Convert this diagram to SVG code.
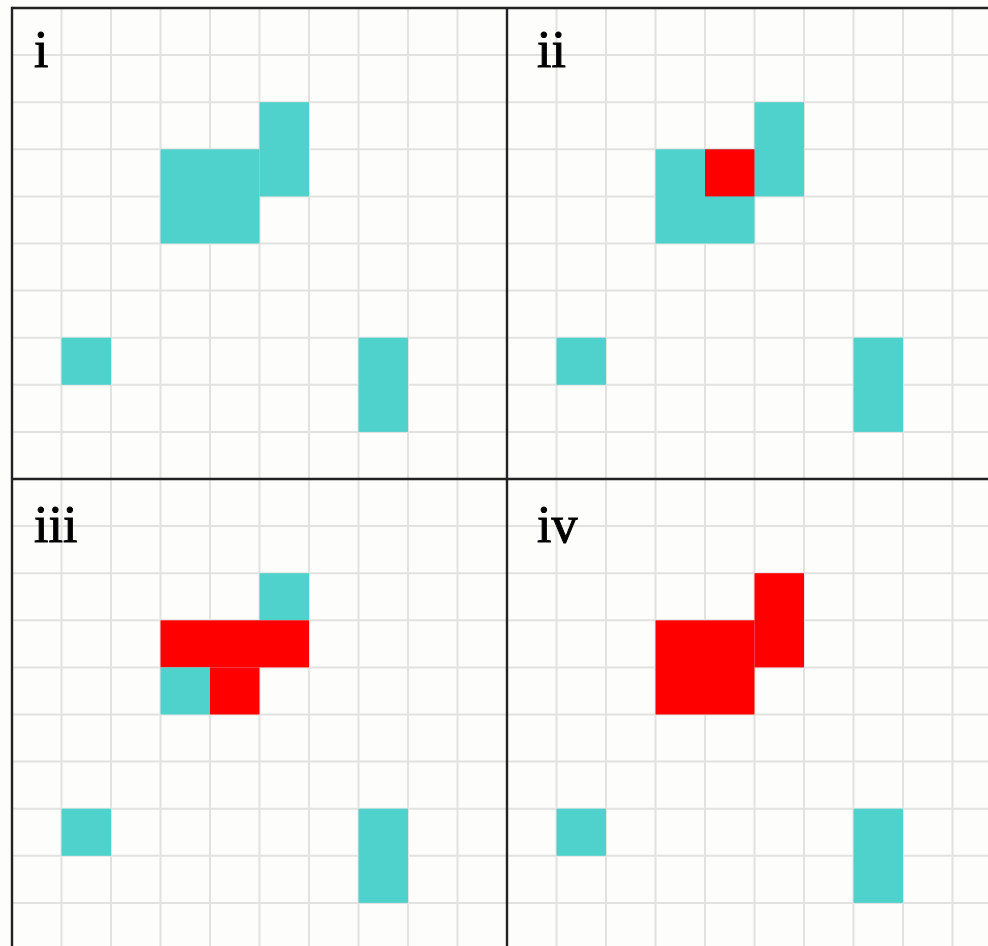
<svg xmlns="http://www.w3.org/2000/svg" xmlns:xlink="http://www.w3.org/1999/xlink" width="988" height="946" viewBox="0 0 988 946">
<style>
.grid line{stroke:#e2e2e0;stroke-width:2}
.frame line{stroke:#222;stroke-width:2.4}
.c{fill:#4fd1cc}
.r{fill:#ff0000}
.lbl{font-family:"Liberation Serif","Times New Roman",serif;font-size:52px;fill:#000;stroke:#000;stroke-width:1}
</style>
<defs>
<g id="static">
<rect class="c" x="49.5" y="329.7" width="49.5" height="47.1"/>
<rect class="c" x="346.5" y="329.7" width="49.5" height="94.2"/>
</g>
</defs>
<rect x="0" y="0" width="988" height="946" fill="#fdfdfb"/>
<g class="grid">
<line x1="61.5" y1="8" x2="61.5" y2="946"/><line x1="111" y1="8" x2="111" y2="946"/><line x1="160.5" y1="8" x2="160.5" y2="946"/><line x1="210" y1="8" x2="210" y2="946"/><line x1="259.5" y1="8" x2="259.5" y2="946"/><line x1="309" y1="8" x2="309" y2="946"/><line x1="358.5" y1="8" x2="358.5" y2="946"/><line x1="408" y1="8" x2="408" y2="946"/><line x1="457.5" y1="8" x2="457.5" y2="946"/>
<line x1="556.5" y1="8" x2="556.5" y2="946"/><line x1="606" y1="8" x2="606" y2="946"/><line x1="655.5" y1="8" x2="655.5" y2="946"/><line x1="705" y1="8" x2="705" y2="946"/><line x1="754.5" y1="8" x2="754.5" y2="946"/><line x1="804" y1="8" x2="804" y2="946"/><line x1="853.5" y1="8" x2="853.5" y2="946"/><line x1="903" y1="8" x2="903" y2="946"/><line x1="952.5" y1="8" x2="952.5" y2="946"/>
<line x1="12" y1="55.1" x2="988" y2="55.1"/><line x1="12" y1="102.2" x2="988" y2="102.2"/><line x1="12" y1="149.3" x2="988" y2="149.3"/><line x1="12" y1="196.4" x2="988" y2="196.4"/><line x1="12" y1="243.5" x2="988" y2="243.5"/><line x1="12" y1="290.6" x2="988" y2="290.6"/><line x1="12" y1="337.7" x2="988" y2="337.7"/><line x1="12" y1="384.8" x2="988" y2="384.8"/><line x1="12" y1="431.9" x2="988" y2="431.9"/>
<line x1="12" y1="526.1" x2="988" y2="526.1"/><line x1="12" y1="573.2" x2="988" y2="573.2"/><line x1="12" y1="620.3" x2="988" y2="620.3"/><line x1="12" y1="667.4" x2="988" y2="667.4"/><line x1="12" y1="714.5" x2="988" y2="714.5"/><line x1="12" y1="761.6" x2="988" y2="761.6"/><line x1="12" y1="808.7" x2="988" y2="808.7"/><line x1="12" y1="855.8" x2="988" y2="855.8"/><line x1="12" y1="902.9" x2="988" y2="902.9"/>
</g>
<g id="panel-i" transform="translate(12,8)">
<use xlink:href="#static" href="#static"/>
<rect class="c" x="247.5" y="94.2" width="49.5" height="94.2"/>
<rect class="c" x="148.5" y="141.3" width="99" height="94.2"/>
</g>
<g id="panel-ii" transform="translate(507,8)">
<use xlink:href="#static" href="#static"/>
<rect class="c" x="247.5" y="94.2" width="49.5" height="94.2"/>
<rect class="c" x="148.5" y="141.3" width="99" height="94.2"/>
<rect class="r" x="198" y="141.3" width="49.5" height="47.1"/>
</g>
<g id="panel-iii" transform="translate(12,479)">
<use xlink:href="#static" href="#static"/>
<rect class="c" x="247.5" y="94.2" width="49.5" height="47.1"/>
<rect class="r" x="148.5" y="141.3" width="148.5" height="47.1"/>
<rect class="c" x="148.5" y="188.4" width="49.5" height="47.1"/>
<rect class="r" x="198" y="188.4" width="49.5" height="47.1"/>
</g>
<g id="panel-iv" transform="translate(507,479)">
<use xlink:href="#static" href="#static"/>
<rect class="r" x="247.5" y="94.2" width="49.5" height="94.2"/>
<rect class="r" x="148.5" y="141.3" width="99" height="94.2"/>
</g>
<g class="frame">
<line x1="12" y1="8" x2="988" y2="8"/>
<line x1="12" y1="6.8" x2="12" y2="946"/>
<line x1="507" y1="8" x2="507" y2="946"/>
<line x1="12" y1="479" x2="988" y2="479"/>
</g>
<g id="labels">
<text class="lbl" x="34" y="67">i</text>
<text class="lbl" x="537" y="67">ii</text>
<text class="lbl" x="34" y="542">iii</text>
<text class="lbl" x="537" y="542">iv</text>
</g>
</svg>
